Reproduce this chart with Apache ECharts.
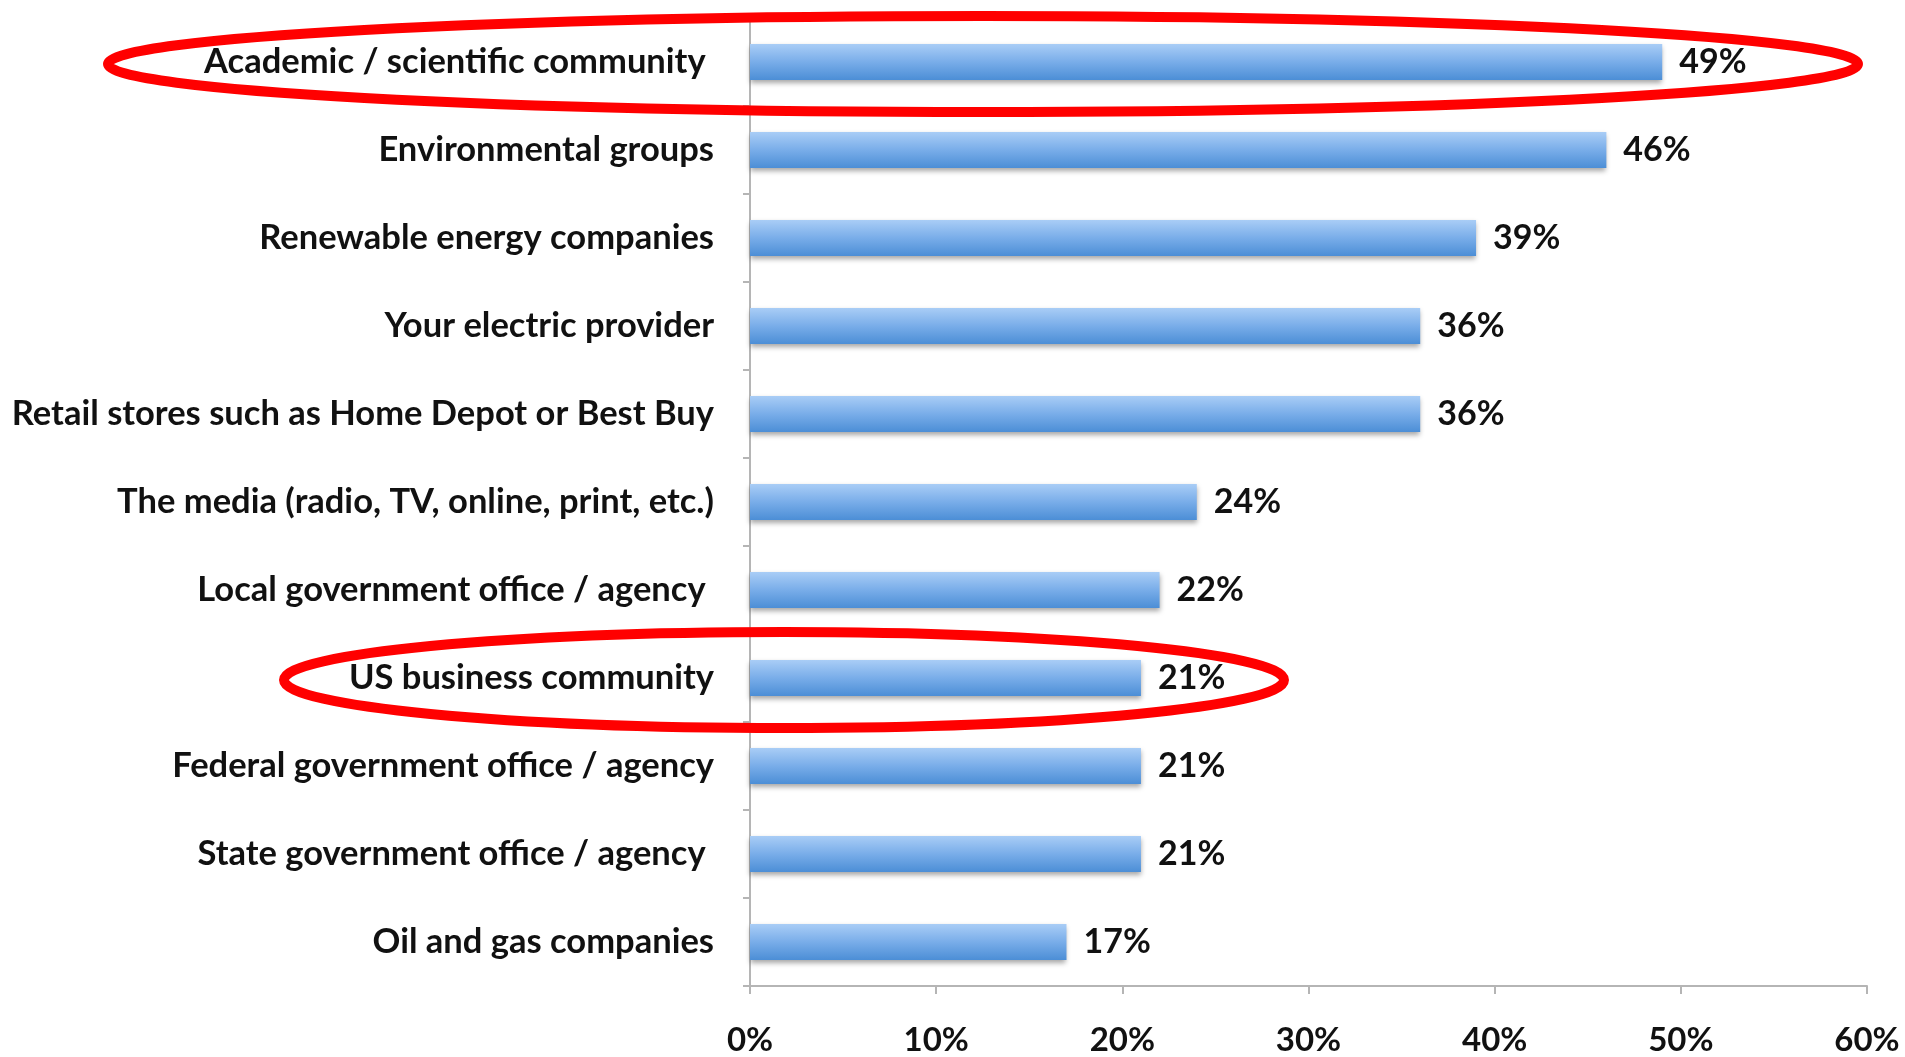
<!DOCTYPE html>
<html>
<head>
<meta charset="utf-8">
<script src="https://cdn.jsdelivr.net/npm/echarts@6/dist/echarts.min.js"></script>
<style>
  html, body { margin: 0; padding: 0; background: #fff; }
  #chart { width: 1905px; height: 1057px; }
</style>
</head>
<body>
<div id="chart"></div>
<script>
const categories = [
  'Academic / scientific community ',
  'Environmental groups',
  'Renewable energy companies',
  'Your electric provider',
  'Retail stores such as Home Depot or Best Buy',
  'The media (radio, TV, online, print, etc.)',
  'Local government office / agency ',
  'US business community',
  'Federal government office / agency',
  'State government office / agency ',
  'Oil and gas companies'
]
const values = [49, 46, 39, 36, 36, 24, 22, 21, 21, 21, 17]
const xTicks = [0, 10, 20, 30, 40, 50, 60]
const highlighted = ['Academic / scientific community ', 'US business community']

const font = "Lato, 'Liberation Sans Narrow', sans-serif"
const chart = echarts.init(document.getElementById('chart'))

const option = {
  animation: false,
  grid: { left: 750, right: 38, top: 18, bottom: 69 },
  xAxis: {
    type: 'value',
    min: xTicks[0],
    max: xTicks[xTicks.length - 1],
    interval: 10,
    splitLine: { show: false },
    axisLine: { show: true, lineStyle: { color: '#b5b5b5', width: 2 } },
    axisTick: { show: true, length: 8, lineStyle: { color: '#b5b5b5', width: 2 } },
    axisLabel: {
      formatter: '{value}%',
      margin: 38,
      color: '#111',
      fontFamily: font,
      fontWeight: 'bold',
      fontSize: 33
    }
  },
  yAxis: {
    type: 'category',
    data: categories,
    inverse: true,
    axisLine: { show: true, lineStyle: { color: '#b5b5b5', width: 2 } },
    axisTick: { show: true, length: 7, lineStyle: { color: '#b5b5b5', width: 2 } },
    axisLabel: {
      margin: 36,
      padding: [6, 0, 0, 0],
      color: '#111',
      fontFamily: font,
      fontWeight: 'bold',
      fontSize: 34.5
    }
  },
  series: [{
    type: 'bar',
    data: values,
    barWidth: 36,
    itemStyle: {
      color: new echarts.graphic.LinearGradient(0, 0, 0, 1, [
        { offset: 0, color: '#a9cdf6' },
        { offset: 0.5, color: '#79ade9' },
        { offset: 1, color: '#4c8ed6' }
      ]),
      shadowColor: 'rgba(0,0,0,0.35)',
      shadowBlur: 5,
      shadowOffsetY: 3
    },
    label: {
      show: true,
      position: 'right',
      distance: 17,
      padding: [5, 0, 0, 0],
      formatter: '{c}%',
      color: '#111',
      fontFamily: font,
      fontWeight: 'bold',
      fontSize: 34
    }
  }]
}

chart.setOption(option)

// red ellipses around the highlighted rows
const ellipseX = {
  'Academic / scientific community ': [108, 1858],
  'US business community': [284, 1284]
}
const graphics = highlighted.map((name) => {
  const cy = chart.convertToPixel({ yAxisIndex: 0 }, name)
  const [x0, x1] = ellipseX[name]
  return {
    type: 'ellipse',
    z: 100,
    shape: { cx: (x0 + x1) / 2, cy: cy + 2, rx: (x1 - x0) / 2, ry: 48 },
    style: { fill: 'none', stroke: '#ff0000', lineWidth: 10 }
  }
})
chart.setOption({ graphic: graphics })

window.addEventListener('resize', () => {
  chart.resize()
})
</script>
</body>
</html>
